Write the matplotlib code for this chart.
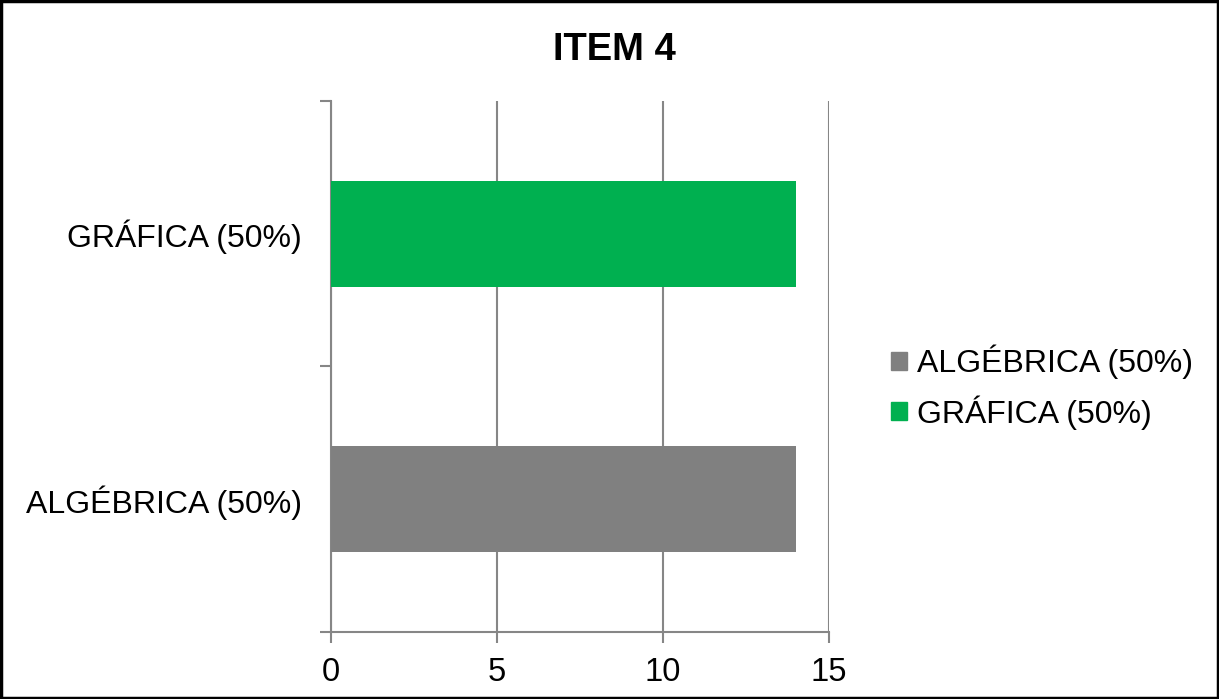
import matplotlib
matplotlib.use("Agg")
import matplotlib.pyplot as plt
from matplotlib.patches import Patch, Rectangle

# data
categories = ["ALGÉBRICA (50%)", "GRÁFICA (50%)"]
values = [14, 14]
bar_colors = ["#808080", "#00B050"]
x_ticks = [0, 5, 10, 15]

plt.rcParams["font.family"] = ["Liberation Sans", "DejaVu Sans"]


def main():
    fig = plt.figure(figsize=(12.19, 6.99), dpi=100)
    ax = fig.add_axes([0.2715, 0.0959, 0.4085, 0.7596])

    ypos = list(range(len(categories)))
    ax.barh(ypos, values, height=0.4, color=bar_colors, zorder=3)

    ax.set_xlim(0, 15)
    ax.set_ylim(-0.5, 1.5)
    ax.set_xticks(x_ticks)
    ax.set_xticklabels([str(t) for t in x_ticks], fontsize=23.5)

    # category labels sit between the tick marks
    ax.set_yticks([-0.5, 0.5, 1.5])
    ax.set_yticklabels([])
    ax.set_yticks(ypos, minor=True)
    ax.set_yticklabels(categories, minor=True, fontsize=23)
    ax.tick_params(axis="y", which="minor", length=0, pad=21)
    ax.tick_params(axis="y", which="major", length=8, color="#868686", width=1.5)
    ax.tick_params(axis="x", length=8, color="#868686", width=1.5, pad=10)

    ax.grid(axis="x", color="#868686", linewidth=1.5, zorder=0)
    for side in ["top", "right"]:
        ax.spines[side].set_visible(False)
    for side in ["left", "bottom"]:
        ax.spines[side].set_color("#868686")
        ax.spines[side].set_linewidth(1.5)

    fig.text(0.504, 0.928, "ITEM 4", ha="center", va="center",
             fontsize=27.5, fontweight="bold")

    handles = [Patch(color=c) for c in bar_colors]
    fig.legend(handles, categories, loc="center left",
               bbox_to_anchor=(0.731, 0.446), frameon=False, fontsize=23,
               borderpad=0, borderaxespad=0,
               handlelength=0.5, handleheight=0.5, handletextpad=0.3,
               labelspacing=0.5)

    # border around the whole picture
    fig.patches.append(Rectangle((0.001, 0.001), 0.998, 0.998,
                                 transform=fig.transFigure, fill=False,
                                 edgecolor="black", linewidth=2.5))

    fig.savefig("out.png", dpi=100)


if __name__ == '__main__':
    main()
